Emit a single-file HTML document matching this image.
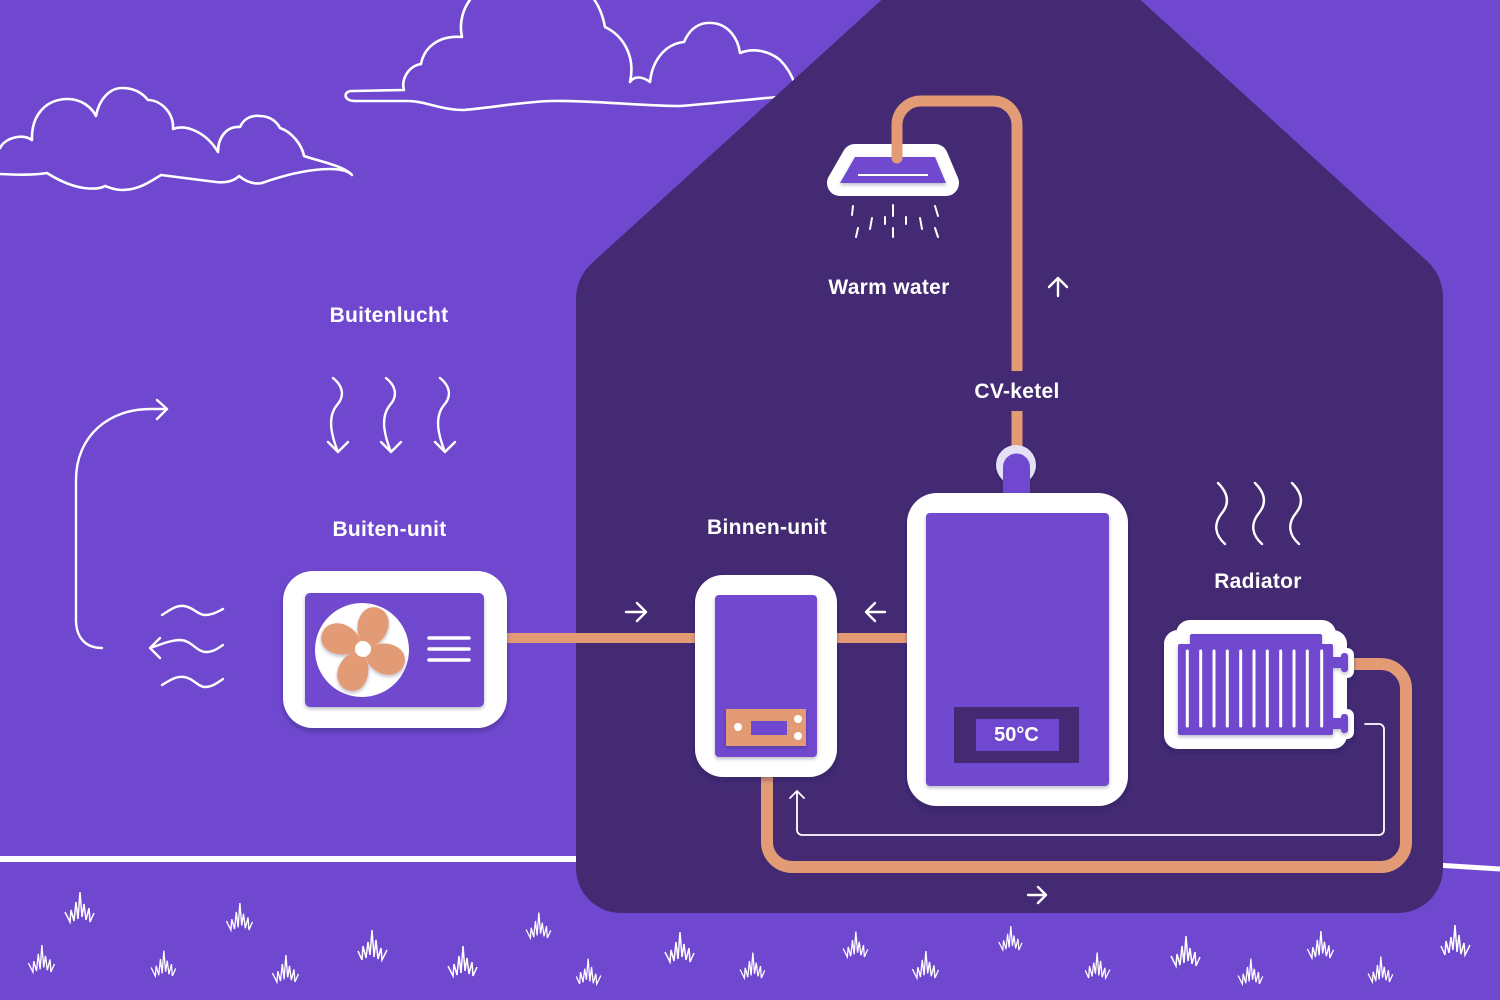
<!DOCTYPE html>
<html><head><meta charset="utf-8"><style>
html,body{margin:0;padding:0;background:#6f48cf;}
svg{display:block;}
text{font-family:"Liberation Sans",sans-serif;font-weight:bold;fill:#fff;}
</style></head><body>
<svg width="1500" height="1000" viewBox="0 0 1500 1000" xmlns="http://www.w3.org/2000/svg">
<defs>
<filter id="sh" x="-20%" y="-20%" width="140%" height="140%"><feDropShadow dx="0" dy="3" stdDeviation="2.5" flood-color="#241248" flood-opacity="0.35"/></filter>
<filter id="sh2" x="-20%" y="-20%" width="140%" height="140%"><feDropShadow dx="0" dy="2" stdDeviation="1.5" flood-color="#241248" flood-opacity="0.3"/></filter>
</defs>
<rect width="1500" height="1000" fill="#6f48cf"/>

<!-- clouds -->
<g fill="none" stroke="#fff" stroke-width="2.6" stroke-linejoin="round" stroke-linecap="round">
<path d="M0,148 C5,138 22,133 32,140 C31,115 46,99 68,99 C82,99 92,108 96,116 C99,99 110,88 122,88 C136,88 144,95 148,100 C160,100 174,112 173,129 C186,124 206,132 218,152 C218,138 226,126 240,127 C244,118 252,115 260,116 C268,116 276,120 280,128 C292,132 302,145 304,156 C322,162 344,166 352,175 C345,166 310,166 262,183 C252,185 244,180 239,176 C234,181 226,183 216,182 L161,175 C150,182 138,190 122,190 C114,190 108,187 105,186 C100,189 92,189 84,188 C70,186 58,180 47,173 C35,175 18,175 0,174"/>
<path d="M790,96 C760,98 720,103 680,106 C640,106 590,100 551,101 C520,102 490,108 464,110 C440,110 425,101 408,101 L355,101 C343,101 343,91 352,91 L404,90 C401,80 408,66 421,64 C424,48 438,35 462,37 C456,10 475,-25 530,-25 C585,-25 600,0 605,27 C622,35 636,55 630,82 C634,76 642,76 650,82 C652,62 664,44 684,42 C690,28 700,22 712,23 C728,24 738,38 740,53 C752,48 768,50 780,60 C788,68 792,76 795,84"/>
</g>

<!-- ground lines -->
<line x1="0" y1="859" x2="600" y2="859" stroke="#fff" stroke-width="6"/>
<line x1="1420" y1="864" x2="1500" y2="869" stroke="#fff" stroke-width="5"/>

<!-- house -->
<path d="M887,-5 L592,263 Q576,278 576,300 L576,868 A45,45 0 0 0 621,913 L1398,913 A45,45 0 0 0 1443,868 L1443,298 Q1443,276 1427,261 L1135,-5 Z" fill="#432a73"/>

<!-- grass -->
<g fill="none" stroke="#fff" stroke-width="1.5" stroke-linejoin="miter">
<path d="M-14,-10 L-9,0 L-8,-12 L-5,-1 L-3,-20 L-1,-3 L1,-30 L3,-5 L5,-18 L7,-2 L10,-14 L11,0 L15,-9" transform="translate(79,922)"/>
<path d="M-14,-10 L-9,0 L-8,-12 L-5,-1 L-3,-20 L-1,-3 L1,-30 L3,-5 L5,-18 L7,-2 L10,-14 L11,0 L15,-9" transform="translate(239,930) scale(0.9)"/>
<path d="M-14,-10 L-9,0 L-8,-12 L-5,-1 L-3,-20 L-1,-3 L1,-30 L3,-5 L5,-18 L7,-2 L10,-14 L11,0 L15,-9" transform="translate(41,972) scale(0.9)"/>
<path d="M-14,-10 L-9,0 L-8,-12 L-5,-1 L-3,-20 L-1,-3 L1,-30 L3,-5 L5,-18 L7,-2 L10,-14 L11,0 L15,-9" transform="translate(163,976) scale(0.85)"/>
<path d="M-14,-10 L-9,0 L-8,-12 L-5,-1 L-3,-20 L-1,-3 L1,-30 L3,-5 L5,-18 L7,-2 L10,-14 L11,0 L15,-9" transform="translate(285,982) scale(0.9)"/>
<path d="M-14,-10 L-9,0 L-8,-12 L-5,-1 L-3,-20 L-1,-3 L1,-30 L3,-5 L5,-18 L7,-2 L10,-14 L11,0 L15,-9" transform="translate(373,960) scale(-1,1)"/>
<path d="M-14,-10 L-9,0 L-8,-12 L-5,-1 L-3,-20 L-1,-3 L1,-30 L3,-5 L5,-18 L7,-2 L10,-14 L11,0 L15,-9" transform="translate(462,976)"/>
<path d="M-14,-10 L-9,0 L-8,-12 L-5,-1 L-3,-20 L-1,-3 L1,-30 L3,-5 L5,-18 L7,-2 L10,-14 L11,0 L15,-9" transform="translate(538,938) scale(0.85)"/>
<path d="M-14,-10 L-9,0 L-8,-12 L-5,-1 L-3,-20 L-1,-3 L1,-30 L3,-5 L5,-18 L7,-2 L10,-14 L11,0 L15,-9" transform="translate(589,984) scale(-0.85,0.85)"/>
<path d="M-14,-10 L-9,0 L-8,-12 L-5,-1 L-3,-20 L-1,-3 L1,-30 L3,-5 L5,-18 L7,-2 L10,-14 L11,0 L15,-9" transform="translate(679,962)"/>
<path d="M-14,-10 L-9,0 L-8,-12 L-5,-1 L-3,-20 L-1,-3 L1,-30 L3,-5 L5,-18 L7,-2 L10,-14 L11,0 L15,-9" transform="translate(752,978) scale(0.85)"/>
<path d="M-14,-10 L-9,0 L-8,-12 L-5,-1 L-3,-20 L-1,-3 L1,-30 L3,-5 L5,-18 L7,-2 L10,-14 L11,0 L15,-9" transform="translate(855,957) scale(0.85)"/>
<path d="M-14,-10 L-9,0 L-8,-12 L-5,-1 L-3,-20 L-1,-3 L1,-30 L3,-5 L5,-18 L7,-2 L10,-14 L11,0 L15,-9" transform="translate(925,978) scale(0.9)"/>
<path d="M-14,-10 L-9,0 L-8,-12 L-5,-1 L-3,-20 L-1,-3 L1,-30 L3,-5 L5,-18 L7,-2 L10,-14 L11,0 L15,-9" transform="translate(1010,950) scale(0.8)"/>
<path d="M-14,-10 L-9,0 L-8,-12 L-5,-1 L-3,-20 L-1,-3 L1,-30 L3,-5 L5,-18 L7,-2 L10,-14 L11,0 L15,-9" transform="translate(1098,978) scale(-0.85,0.85)"/>
<path d="M-14,-10 L-9,0 L-8,-12 L-5,-1 L-3,-20 L-1,-3 L1,-30 L3,-5 L5,-18 L7,-2 L10,-14 L11,0 L15,-9" transform="translate(1185,966)"/>
<path d="M-14,-10 L-9,0 L-8,-12 L-5,-1 L-3,-20 L-1,-3 L1,-30 L3,-5 L5,-18 L7,-2 L10,-14 L11,0 L15,-9" transform="translate(1250,984) scale(0.85)"/>
<path d="M-14,-10 L-9,0 L-8,-12 L-5,-1 L-3,-20 L-1,-3 L1,-30 L3,-5 L5,-18 L7,-2 L10,-14 L11,0 L15,-9" transform="translate(1320,958) scale(0.9)"/>
<path d="M-14,-10 L-9,0 L-8,-12 L-5,-1 L-3,-20 L-1,-3 L1,-30 L3,-5 L5,-18 L7,-2 L10,-14 L11,0 L15,-9" transform="translate(1380,982) scale(0.85)"/>
<path d="M-14,-10 L-9,0 L-8,-12 L-5,-1 L-3,-20 L-1,-3 L1,-30 L3,-5 L5,-18 L7,-2 L10,-14 L11,0 L15,-9" transform="translate(1456,955) scale(-1,1)"/>
</g>

<!-- outdoor air arrows -->
<g fill="none" stroke="#fff" stroke-width="2.4" stroke-linecap="round" stroke-linejoin="round">
<path d="M333,378 C343,386 345,396 337,405 C328,416 330,432 338,452 M328,442 L338,452 L348,442"/>
<path d="M386,378 C396,386 398,396 390,405 C381,416 383,432 391,452 M381,442 L391,452 L401,442"/>
<path d="M440,378 C450,386 452,396 444,405 C435,416 437,432 445,452 M435,442 L445,452 L455,442"/>
<path d="M102,648 C86,648 76,638 76,620 L76,480 C76,435 110,409 150,409 L167,409 M157,400 L167,409 L157,419"/>
<path d="M162,615 C170,610 176,605 184,606 C193,607 198,615 205,615 C212,615 217,612 223,609"/>
<path d="M150,648 C160,645 170,640 181,640 C192,641 197,652 206,652 C214,652 218,648 223,645 M160,638 L150,648 L160,658"/>
<path d="M162,685 C170,680 176,676 184,677 C193,678 198,687 205,687 C212,687 217,683 223,679"/>
</g>

<!-- pipes -->
<g fill="none" stroke="#e39b76">
<line x1="505" y1="638" x2="700" y2="638" stroke-width="10"/>
<line x1="835" y1="638" x2="910" y2="638" stroke-width="10"/>
<path d="M1017,371 L1017,125 A24,24 0 0 0 993,101 L921,101 A24,24 0 0 0 897,125 L897,158" stroke-width="11"/>
<line x1="1017" y1="411" x2="1017" y2="455" stroke-width="11"/>
<path d="M767,770 L767,842 A25,25 0 0 0 792,867 L1381,867 A25,25 0 0 0 1406,842 L1406,689 A25,25 0 0 0 1381,664 L1340,664" stroke-width="12"/>
</g>
<circle cx="897" cy="158" r="5.5" fill="#e39b76"/>

<!-- return line -->
<path d="M1365,724 L1379,724 A5,5 0 0 1 1384,729 L1384,830 A5,5 0 0 1 1379,835 L802,835 A5,5 0 0 1 797,830 L797,791 M790,798 L797,791 L804,798" fill="none" stroke="#fff" stroke-width="1.8" stroke-linecap="round" stroke-linejoin="round"/>

<!-- flow arrows -->
<g fill="none" stroke="#fff" stroke-width="2.4" stroke-linecap="round" stroke-linejoin="round">
<path d="M626,612 L646,612 M637,603 L646,612 L637,621"/>
<path d="M885,612 L866,612 M875,603 L866,612 L875,621"/>
<path d="M1058,296 L1058,278 M1049,287 L1058,278 L1067,287"/>
<path d="M1028,895 L1046,895 M1038,887 L1046,895 L1038,903"/>
</g>

<!-- shower head -->
<path d="M855,157 L935,157 L946,183 L840,183 Z" fill="#fff" stroke="#fff" stroke-width="26" stroke-linejoin="round"/>
<path d="M855,157 L935,157 L946,183 L840,183 Z" fill="#6f48cf" filter="url(#sh2)"/>
<line x1="858" y1="175" x2="928" y2="175" stroke="#fff" stroke-width="2"/>
<line x1="897" y1="125" x2="897" y2="158" stroke="#e39b76" stroke-width="11"/>
<circle cx="897" cy="158" r="5.5" fill="#e39b76"/>
<g stroke="#fff" stroke-width="2" stroke-linecap="round">
<line x1="853" y1="206" x2="852" y2="215"/><line x1="893" y1="205" x2="893" y2="216"/><line x1="935" y1="206" x2="938" y2="216"/>
<line x1="872" y1="218" x2="870" y2="229"/><line x1="885" y1="217" x2="885" y2="224"/><line x1="906" y1="217" x2="906" y2="224"/><line x1="920" y1="218" x2="922" y2="229"/>
<line x1="858" y1="228" x2="856" y2="237"/><line x1="893" y1="228" x2="893" y2="237"/><line x1="935" y1="228" x2="938" y2="237"/>
</g>

<!-- Buiten-unit -->
<rect x="283" y="571" width="224" height="157" rx="30" fill="#fff" filter="url(#sh)"/>
<rect x="305" y="593" width="179" height="114" rx="5" fill="#6f48cf" filter="url(#sh2)"/>
<circle cx="362" cy="650" r="47" fill="#fff"/>
<g fill="#e39b76" filter="url(#sh2)">
<path d="M4,-2 C10,-15 32,-20 38,-7 C43,6 30,16 16,12 C8,10 3,5 4,-2 Z" transform="translate(363,649) rotate(25) scale(1.12)"/>
<path d="M4,-2 C10,-15 32,-20 38,-7 C43,6 30,16 16,12 C8,10 3,5 4,-2 Z" transform="translate(363,649) rotate(115) scale(1.12)"/>
<path d="M4,-2 C10,-15 32,-20 38,-7 C43,6 30,16 16,12 C8,10 3,5 4,-2 Z" transform="translate(363,649) rotate(205) scale(1.12)"/>
<path d="M4,-2 C10,-15 32,-20 38,-7 C43,6 30,16 16,12 C8,10 3,5 4,-2 Z" transform="translate(363,649) rotate(295) scale(1.12)"/>
</g>
<circle cx="363" cy="649" r="8" fill="#fff"/>
<g stroke="#fff" stroke-width="3.5" stroke-linecap="round">
<line x1="429" y1="638" x2="469" y2="638"/><line x1="429" y1="649" x2="469" y2="649"/><line x1="429" y1="660" x2="469" y2="660"/>
</g>

<!-- Binnen-unit -->
<rect x="695" y="575" width="142" height="202" rx="28" fill="#fff" filter="url(#sh)"/>
<rect x="715" y="595" width="102" height="162" rx="4" fill="#6f48cf" filter="url(#sh2)"/>
<rect x="726" y="709" width="80" height="37" fill="#e39b76" filter="url(#sh2)"/>
<rect x="751" y="721" width="36" height="14" fill="#6f48cf"/>
<circle cx="738" cy="727" r="4" fill="#fff"/>
<circle cx="798" cy="719" r="4" fill="#fff"/>
<circle cx="798" cy="736" r="4" fill="#fff"/>

<!-- CV-ketel -->
<circle cx="1016" cy="465" r="20" fill="#e4e0f5" filter="url(#sh2)"/>
<path d="M1003,467 A13.5,13.5 0 0 1 1030,467 L1030,500 L1003,500 Z" fill="#6f48cf"/>
<rect x="907" y="493" width="221" height="313" rx="30" fill="#fff" filter="url(#sh)"/>
<rect x="926" y="513" width="183" height="273" rx="4" fill="#6f48cf" filter="url(#sh2)"/>
<rect x="954" y="707" width="125" height="56" fill="#432a73"/>
<rect x="976" y="719" width="83" height="32" fill="#6f48cf"/>
<text x="1016.5" y="741" font-size="20" text-anchor="middle">50°C</text>

<!-- Radiator -->
<g stroke="#fff" stroke-linejoin="round" fill="#fff" filter="url(#sh)">
<rect x="1190" y="634" width="132" height="14" stroke-width="28"/>
<rect x="1178" y="644" width="155" height="91" stroke-width="28"/>
<rect x="1333" y="655" width="14" height="16" stroke-width="14"/>
<rect x="1333" y="716" width="14" height="16" stroke-width="14"/>
</g>
<g fill="#6f48cf" filter="url(#sh2)">
<rect x="1190" y="634" width="132" height="14" rx="2"/>
<rect x="1178" y="644" width="155" height="91" rx="2"/>
<rect x="1330" y="657" width="13" height="11"/>
<rect x="1330" y="718" width="13" height="11"/>
<rect x="1341" y="653" width="7" height="19" rx="3"/>
<rect x="1341" y="714" width="7" height="19" rx="3"/>
</g>
<g stroke="#fff" stroke-width="3" stroke-linecap="round">
<line x1="1187.3" y1="651" x2="1187.3" y2="726"/><line x1="1200.7" y1="651" x2="1200.7" y2="726"/><line x1="1214" y1="651" x2="1214" y2="726"/><line x1="1227.3" y1="651" x2="1227.3" y2="726"/><line x1="1240.7" y1="651" x2="1240.7" y2="726"/><line x1="1254" y1="651" x2="1254" y2="726"/><line x1="1267.3" y1="651" x2="1267.3" y2="726"/><line x1="1280.7" y1="651" x2="1280.7" y2="726"/><line x1="1294" y1="651" x2="1294" y2="726"/><line x1="1307.3" y1="651" x2="1307.3" y2="726"/><line x1="1321.7" y1="651" x2="1321.7" y2="726"/>
</g>
<g fill="none" stroke="#fff" stroke-width="2.4" stroke-linecap="round">
<path d="M1218,483 C1228,493 1230,503 1222,513 C1213,524 1215,535 1225,544"/>
<path d="M1255,483 C1265,493 1267,503 1259,513 C1250,524 1252,535 1262,544"/>
<path d="M1292,483 C1302,493 1304,503 1296,513 C1287,524 1289,535 1299,544"/>
</g>

<!-- labels -->
<g font-size="21" text-anchor="middle" letter-spacing="0.3">
<text x="389" y="322">Buitenlucht</text>
<text x="389.5" y="536">Buiten-unit</text>
<text x="767" y="534">Binnen-unit</text>
<text x="1017" y="398">CV-ketel</text>
<text x="1258" y="588">Radiator</text>
<text x="889" y="294">Warm water</text>
</g>
</svg>
</body></html>
